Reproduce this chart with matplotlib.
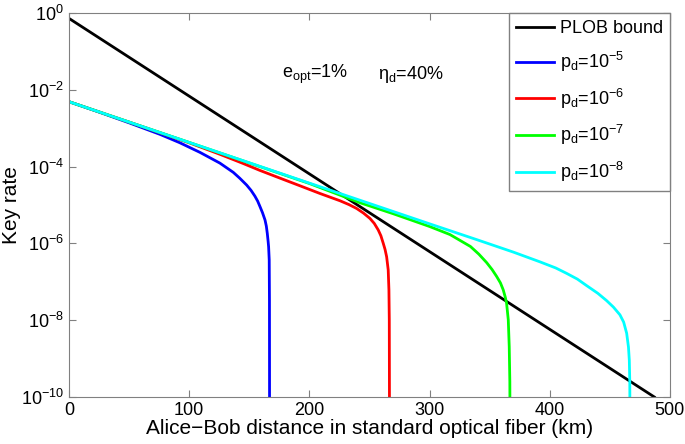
import numpy as np
from matplotlib import pyplot as plt

plt.rcParams["font.family"] = ["Liberation Sans", "DejaVu Sans"]
plt.rcParams["mathtext.fontset"] = "custom"
plt.rcParams["mathtext.rm"] = "Liberation Sans"
plt.rcParams["mathtext.it"] = "Liberation Sans:italic"
plt.rcParams["mathtext.default"] = "regular"

# distances (km) and log10(key rate)
plob_x = [0, 487]
plob_y = [-0.14, -10.0]

blue_x = [0, 25, 50, 75.7, 92.3, 109, 125.6, 136.7, 142, 147.8, 151.5, 154.7, 157, 158.9,
          161, 163.1, 164.2, 165.0, 165.7, 166.1, 166.6, 166.8, 166.9]
blue_y = [-2.31, -2.58, -2.86, -3.16, -3.38, -3.63, -3.91, -4.15, -4.30, -4.48, -4.62, -4.77,
          -4.90, -5.04, -5.20, -5.39, -5.55, -5.74, -5.95, -6.09, -6.43, -7.5, -11]

red_x = [0, 50, 100, 125.6, 145, 158.9, 175.5, 192.2, 208.8, 225.5, 233, 239.3, 245, 250.4,
         254, 257.3, 259.5, 261.5, 263, 264.3, 265.6, 266.2, 266.5, 266.7]
red_y = [-2.31, -2.84, -3.38, -3.68, -3.92, -4.10, -4.30, -4.50, -4.70, -4.89, -4.99, -5.09,
         -5.21, -5.35, -5.48, -5.65, -5.80, -6.00, -6.16, -6.35, -6.69, -7.21, -8.0, -11]

green_x = [0, 100, 200, 242, 270, 300, 317, 334, 341, 347.5, 352, 355.8, 359, 361.3, 363,
           364.1, 365.5, 366.3, 366.8, 367]
green_y = [-2.31, -3.37, -4.44, -4.94, -5.23, -5.56, -5.77, -6.08, -6.28, -6.50, -6.68, -6.86,
           -7.03, -7.21, -7.40, -7.56, -7.99, -8.69, -9.6, -11]

cyan_x = [0, 100, 200, 300, 340, 370, 391.8, 405, 414, 423, 430.7, 440, 447.3, 453, 458.4,
          461.5, 464, 465.5, 466.2, 466.6, 466.8]
cyan_y = [-2.31, -3.37, -4.43, -5.49, -5.91, -6.23, -6.48, -6.64, -6.78, -6.93, -7.10, -7.30,
          -7.49, -7.66, -7.86, -8.05, -8.34, -8.7, -9.04, -9.6, -11]

fig = plt.figure(figsize=(6.85, 4.44), dpi=100)
ax = fig.add_axes([0.1007, 0.1059, 0.8773, 0.8648])

ax.plot(plob_x, 10.0 ** np.array(plob_y), color="black", lw=2, label="PLOB bound")
ax.plot(blue_x, 10.0 ** np.array(blue_y), color="#0000ff", lw=2, label=r"p$_{d}$=10$^{-5}$")
ax.plot(red_x, 10.0 ** np.array(red_y), color="#ff0000", lw=2, label=r"p$_{d}$=10$^{-6}$")
ax.plot(green_x, 10.0 ** np.array(green_y), color="#00ff00", lw=2, label=r"p$_{d}$=10$^{-7}$")
ax.plot(cyan_x, 10.0 ** np.array(cyan_y), color="#00ffff", lw=2, label=r"p$_{d}$=10$^{-8}$")

ax.set_yscale("log")
ax.set_xlim(0, 500)
ax.set_ylim(1e-10, 1)
ax.set_xticks([0, 100, 200, 300, 400, 500])
ax.set_yticks([1e-10, 1e-8, 1e-6, 1e-4, 1e-2, 1])
ax.minorticks_off()
ax.tick_params(direction="in", top=True, right=True, length=5, color="#808080", labelsize=13)
for s in ax.spines.values():
    s.set_color("#808080")

ax.text(177, 10 ** -1.61, r"e$_{opt}$=1%", fontsize=13, va="center", ha="left")
ax.text(257, 10 ** -1.61, r"$\eta_{d}$=40%", fontsize=13, va="center", ha="left")

ax.set_xlabel("Alice\u2212Bob distance in standard optical fiber (km)", fontsize=15, labelpad=0)
ax.set_ylabel("Key rate", fontsize=15, labelpad=0)

leg = ax.legend(loc="upper right", fontsize=13, fancybox=False, framealpha=1,
                edgecolor="#808080", handlelength=2.1, borderaxespad=0, handletextpad=0.3,
                labelspacing=0.7)
leg.get_frame().set_linewidth(1)

fig.savefig("out.png", dpi=100)
